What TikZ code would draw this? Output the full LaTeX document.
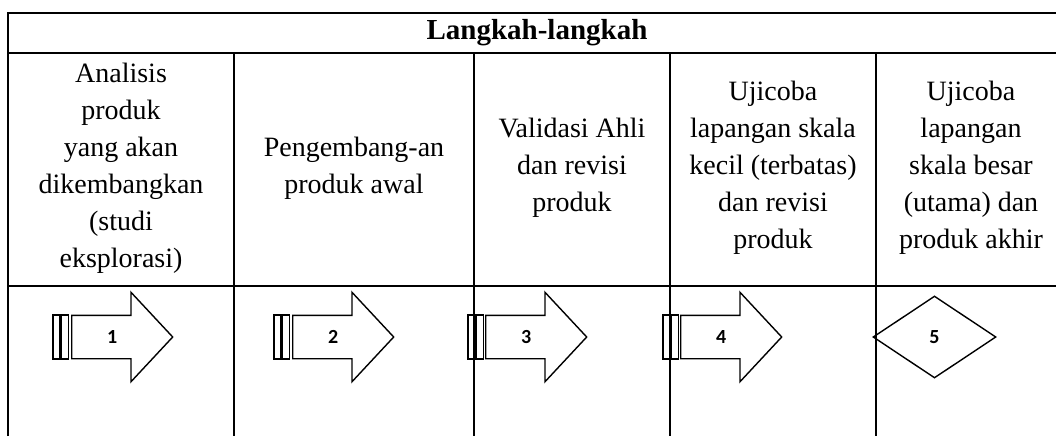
\documentclass[tikz,border=0pt]{standalone}
\usepackage{fontspec}
\setmainfont{Liberation Serif}
\newfontfamily\numfont{Carlito}
\usetikzlibrary{shapes.arrows,shapes.geometric}

\begin{document}
\begin{tikzpicture}
    %[x=0.5pt,y=-0.5pt] -> coordinates are pixels of the table
    [x=0.5pt,y=-0.5pt,
     cell/.style={align=center,inner sep=0pt,font=\fontsize{14}{18.5}\selectfont},
     head/.style={inner sep=0pt,font=\fontsize{14.5}{17}\selectfont\bfseries},
     rule/.style={line width=1pt},
     arrw/.style={single arrow,draw,line width=0.7pt,anchor=tail,
       minimum height=50.5pt,minimum width=44pt,single arrow head extend=11.5pt,
       single arrow tip angle=94,inner xsep=2pt,inner ysep=7.5pt,
       text height=6pt,text depth=0pt,font=\numfont\bfseries\fontsize{10}{12}\selectfont},
     bar/.style={line width=0.7pt},
     dmd/.style={diamond,draw,line width=0.7pt,inner sep=0pt,
       minimum width=61.5pt,minimum height=41pt,font=\numfont\bfseries\fontsize{10}{12}\selectfont}]
    \useasboundingbox (0,0) rectangle (1056,436);

    % table
    \draw[rule] (8,436) -- (8,13) -- (1056,13);
    \draw[rule] (8,53) -- (1056,53);
    \draw[rule] (8,286) -- (1056,286);
    \foreach \x in {234,474,670,876}
      \draw[rule] (\x,53) -- (\x,436);

    \node[head] (hd) at (537,33) {Langkah-langkah};

    \node[cell] (c1) at (121,168) {Analisis\\produk\\yang akan\\dikembangkan\\(studi\\eksplorasi)};
    \node[cell] (c2) at (354,168) {Pengembang-an\\produk awal};
    \node[cell] (c3) at (572,168) {Validasi Ahli\\dan revisi\\produk};
    \node[cell] (c4) at (773,168) {Ujicoba\\lapangan skala\\kecil (terbatas)\\dan revisi\\produk};
    \node[cell] (c5) at (971,168) {Ujicoba\\lapangan\\skala besar\\(utama) dan\\produk akhir};

    % steps
    \foreach \x in {53,274,468,663} {
      \draw[bar] (\x,315) rectangle ++(7,44);
      \draw[bar] (\x+8.5,315) rectangle ++(7,44);
    }
    \node[arrw] (s1) at (71,337) {1};
    \node[arrw] (s2) at (292,337) {2};
    \node[arrw] (s3) at (485,337) {3};
    \node[arrw] (s4) at (680,337) {4};
    \node[dmd] (s5) at (934.5,337) {5};

  \end{tikzpicture}
\end{document}
